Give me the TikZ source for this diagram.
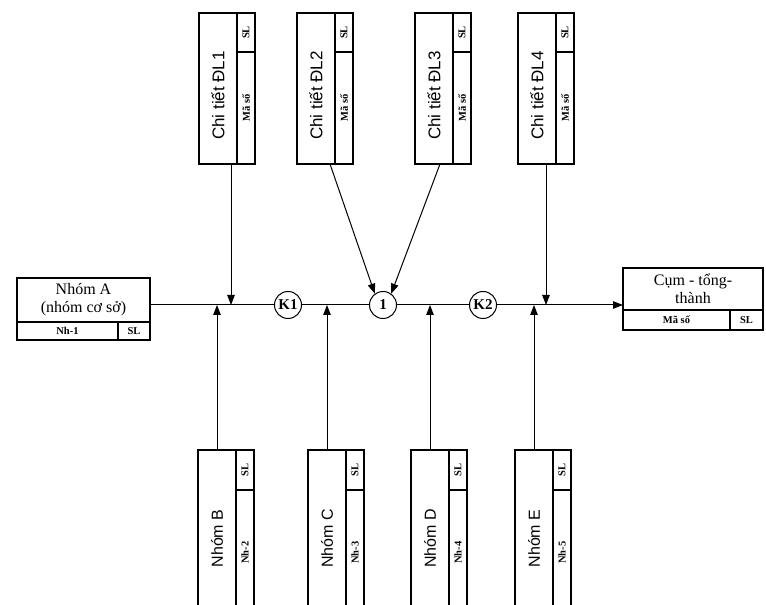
\documentclass[tikz,border=0pt]{standalone}
\usepackage{fontspec}
\setmainfont{Liberation Serif}
\setsansfont{Liberation Sans}
\usetikzlibrary{positioning,arrows.meta}

\tikzset{
  mainpart/.style={draw,line width=1.1pt,inner sep=0pt,outer sep=0pt},
  sidecell/.style={draw,line width=1.1pt,inner sep=0pt,outer sep=0pt,minimum width=18pt,font=\fontsize{10.5}{11}\selectfont\bfseries},
  joint/.style={draw,circle,line width=1pt,minimum size=27pt,inner sep=0pt,fill=white,font=\fontsize{15}{15}\selectfont\bfseries},
  pointer/.style={line width=1pt,-{Triangle[length=10pt,width=7.5pt]}}
}

\begin{document}
\begin{tikzpicture}[x=1pt,y=1pt]
        \useasboundingbox (0,0) rectangle (766,605);
        \clip (0,0) rectangle (766,605);

        % nhom co so
        \node[mainpart,minimum width=133pt,minimum height=44pt,align=center,font=\fontsize{16}{18}\selectfont] (nhomA) at (83.5,305) {Nhóm A\\(nhóm cơ sở)};
        \node[sidecell,minimum width=101pt,minimum height=18pt,anchor=north west] (nhomA-ma) at (nhomA.south west) {Nh-1};
        \node[sidecell,minimum width=32pt,minimum height=18pt,anchor=north west] (nhomA-sl) at (nhomA-ma.north east) {SL};

        % cum tong thanh
        \node[mainpart,minimum width=140pt,minimum height=42pt,align=center,font=\fontsize{16}{18}\selectfont] (cum) at (693,316) {Cụm - tổng-\\thành};
        \node[sidecell,minimum width=107pt,minimum height=20pt,anchor=north west] (cum-ma) at (cum.south west) {Mã số};
        \node[sidecell,minimum width=33pt,minimum height=20pt,anchor=north west] (cum-sl) at (cum-ma.north east) {SL};

        % cac diem lap
        \node[joint] (k1) at (288,300) {K1};
        \node[joint] (c1) at (383,300) {1};
        \node[joint] (k2) at (483,300) {K2};
        \coordinate (t1) at (231,300);
        \coordinate (t4) at (546,300);

        \draw[line width=1pt] (nhomA.east |- k1) -- (k1);
        \draw[line width=1pt] (k1) -- (c1);
        \draw[line width=1pt] (c1) -- (k2);
        \draw[pointer] (k2) -- (cum.west |- k2);

        % chi tiet
        \foreach \name/\x/\lbl in {dl1/218/Chi tiết ĐL1, dl2/316/Chi tiết ĐL2, dl3/434/Chi tiết ĐL3, dl4/537/Chi tiết ĐL4}{
          \node[mainpart,minimum width=38pt,minimum height=151pt,font=\sffamily\fontsize{17}{17}\selectfont] (\name) at (\x,516.5) {\rotatebox{90}{\lbl\hspace*{14pt}}};
          \node[sidecell,minimum height=39pt,anchor=north west] (\name-sl) at (\name.north east) {\rotatebox{90}{SL}};
          \node[sidecell,minimum height=112pt,anchor=north west] (\name-ma) at (\name-sl.south west) {\rotatebox{90}{Mã số}};
        }
        \draw[pointer] (dl1.south -| t1) -- (t1);
        \draw[pointer] ([xshift=-5pt]dl2.south east) -- (c1.126);
        \draw[pointer] ([xshift=6pt]dl3.south) -- (c1.54);
        \draw[pointer] (dl4.south -| t4) -- (t4);

        % nhom
        \foreach \name/\x/\lbl/\code in {nhomB/217/Nhóm B/Nh-2, nhomC/327/Nhóm C/Nh-3, nhomD/430/Nhóm D/Nh-4, nhomE/534/Nhóm E/Nh-5}{
          \node[mainpart,minimum width=38pt,minimum height=165pt,font=\sffamily\fontsize{16}{16}\selectfont] (\name) at (\x,72.5) {\rotatebox{90}{\lbl\hspace*{12pt}}};
          \node[sidecell,minimum height=40pt,anchor=north west] (\name-sl) at (\name.north east) {\rotatebox{90}{SL}};
          \node[sidecell,minimum height=125pt,anchor=north west] (\name-ma) at (\name-sl.south west) {\rotatebox{90}{\code}};
          \draw[pointer] (\name.north) -- (\name.north |- k1);
        }
    \end{tikzpicture}
\end{document}
